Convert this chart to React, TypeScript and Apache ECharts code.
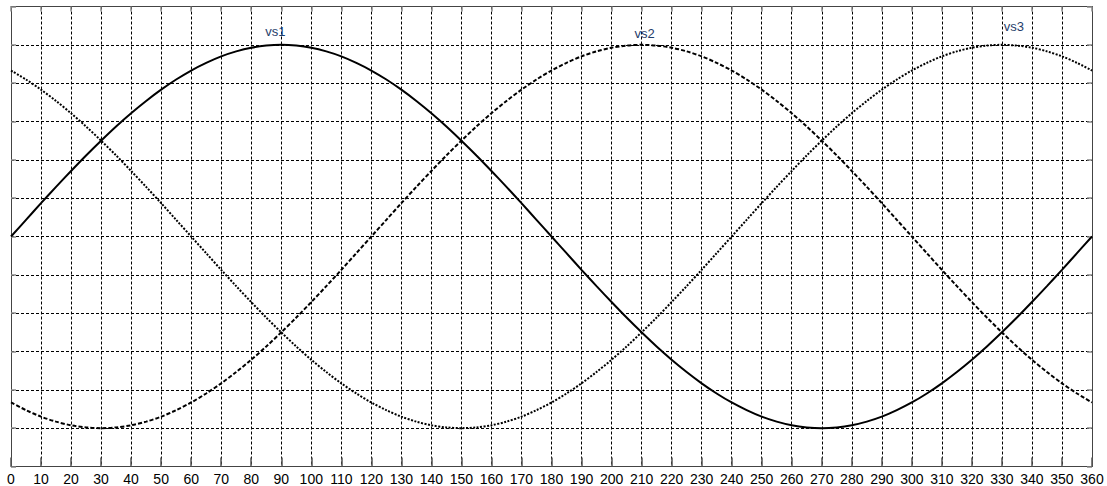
import React, { useEffect, useRef } from "react";
import * as echarts from "echarts";

const angles = [0, 5, 10, 15, 20, 25, 30, 35, 40, 45, 50, 55, 60, 65, 70, 75, 80, 85, 90, 95, 100, 105, 110, 115, 120, 125, 130, 135, 140, 145, 150, 155, 160, 165, 170, 175, 180, 185, 190, 195, 200, 205, 210, 215, 220, 225, 230, 235, 240, 245, 250, 255, 260, 265, 270, 275, 280, 285, 290, 295, 300, 305, 310, 315, 320, 325, 330, 335, 340, 345, 350, 355, 360];
const vs1 = [0, 0.087, 0.174, 0.259, 0.342, 0.423, 0.5, 0.574, 0.643, 0.707, 0.766, 0.819, 0.866, 0.906, 0.94, 0.966, 0.985, 0.996, 1, 0.996, 0.985, 0.966, 0.94, 0.906, 0.866, 0.819, 0.766, 0.707, 0.643, 0.574, 0.5, 0.423, 0.342, 0.259, 0.174, 0.087, 0, -0.087, -0.174, -0.259, -0.342, -0.423, -0.5, -0.574, -0.643, -0.707, -0.766, -0.819, -0.866, -0.906, -0.94, -0.966, -0.985, -0.996, -1, -0.996, -0.985, -0.966, -0.94, -0.906, -0.866, -0.819, -0.766, -0.707, -0.643, -0.574, -0.5, -0.423, -0.342, -0.259, -0.174, -0.087, 0];
const vs2 = [-0.866, -0.906, -0.94, -0.966, -0.985, -0.996, -1, -0.996, -0.985, -0.966, -0.94, -0.906, -0.866, -0.819, -0.766, -0.707, -0.643, -0.574, -0.5, -0.423, -0.342, -0.259, -0.174, -0.087, 0, 0.087, 0.174, 0.259, 0.342, 0.423, 0.5, 0.574, 0.643, 0.707, 0.766, 0.819, 0.866, 0.906, 0.94, 0.966, 0.985, 0.996, 1, 0.996, 0.985, 0.966, 0.94, 0.906, 0.866, 0.819, 0.766, 0.707, 0.643, 0.574, 0.5, 0.423, 0.342, 0.259, 0.174, 0.087, 0, -0.087, -0.174, -0.259, -0.342, -0.423, -0.5, -0.574, -0.643, -0.707, -0.766, -0.819, -0.866];
const vs3 = [0.866, 0.819, 0.766, 0.707, 0.643, 0.574, 0.5, 0.423, 0.342, 0.259, 0.174, 0.087, 0, -0.087, -0.174, -0.259, -0.342, -0.423, -0.5, -0.574, -0.643, -0.707, -0.766, -0.819, -0.866, -0.906, -0.94, -0.966, -0.985, -0.996, -1, -0.996, -0.985, -0.966, -0.94, -0.906, -0.866, -0.819, -0.766, -0.707, -0.643, -0.574, -0.5, -0.423, -0.342, -0.259, -0.174, -0.087, 0, 0.087, 0.174, 0.259, 0.342, 0.423, 0.5, 0.574, 0.643, 0.707, 0.766, 0.819, 0.866, 0.906, 0.94, 0.966, 0.985, 0.996, 1, 0.996, 0.985, 0.966, 0.94, 0.906, 0.866];
const seriesNames = ["vs1", "vs2", "vs3"];
const labelAt = [
  [88, 1.0],
  [211, 0.99],
  [334, 1.03],
];

export default function App() {
  const ref = useRef<HTMLDivElement>(null);
  useEffect(() => {
    if (!ref.current) return;
    const chart = echarts.init(ref.current, null, { renderer: "svg" });
    const font = "Liberation Sans, Arial, sans-serif";
    const tickStyle = { show: true, inside: true, length: 5, lineStyle: { color: "#888", width: 1.5 } };
    const bottomTick = { show: true, inside: true, length: 9, lineStyle: { color: "#555", width: 1.5 } };
    const axisLine = { show: true, onZero: false, lineStyle: { color: "#444", width: 1 } };
    const split = { show: true, lineStyle: { color: "#000", type: [3, 2] as any, width: 1 } };
    const mk = (vals: number[]) => angles.map((a, i) => [a, vals[i]]);
    const styles: any[] = [
      { type: "solid", width: 2 },
      { type: [4, 2], width: 2 },
      { type: [2, 1.5], width: 2 },
    ];
    const datas = [vs1, vs2, vs3];
    chart.setOption({
      animation: false,
      backgroundColor: "#fff",
      grid: { left: 11, right: 15, top: 6.5, bottom: 19.5 },
      xAxis: [
        {
          type: "value", min: 0, max: 360, interval: 10,
          axisLine, axisTick: bottomTick, splitLine: split,
          axisLabel: { color: "#000", fontSize: 14, fontFamily: font, margin: 5 },
        },
        {
          type: "value", position: "top", min: 0, max: 360, interval: 10,
          axisLine, axisTick: tickStyle, splitLine: { show: false }, axisLabel: { show: false },
        },
      ],
      yAxis: [
        {
          type: "value", min: -1.2, max: 1.2, interval: 0.2,
          axisLine, axisTick: tickStyle, splitLine: split, axisLabel: { show: false },
        },
        {
          type: "value", position: "right", min: -1.2, max: 1.2, interval: 0.2,
          axisLine, axisTick: tickStyle, splitLine: { show: false }, axisLabel: { show: false },
        },
      ],
      series: datas.map((d, i) => ({
        type: "line",
        name: seriesNames[i],
        data: mk(d),
        smooth: 0.3,
        showSymbol: false,
        symbol: "none",
        lineStyle: { color: "#000", ...styles[i] },
        markPoint: {
          symbol: "circle",
          symbolSize: 0,
          data: [
            {
              coord: labelAt[i],
              label: {
                show: true,
                formatter: seriesNames[i],
                position: "inside",
                offset: [0, -13],
                color: "#1f3d6b",
                fontSize: 13,
                fontFamily: font,
              },
            },
          ],
        },
      })),
    });
    return () => chart.dispose();
  }, []);
  return <div ref={ref} style={{ position: "fixed", left: 0, top: 0, width: 1107, height: 486 }} />;
}
